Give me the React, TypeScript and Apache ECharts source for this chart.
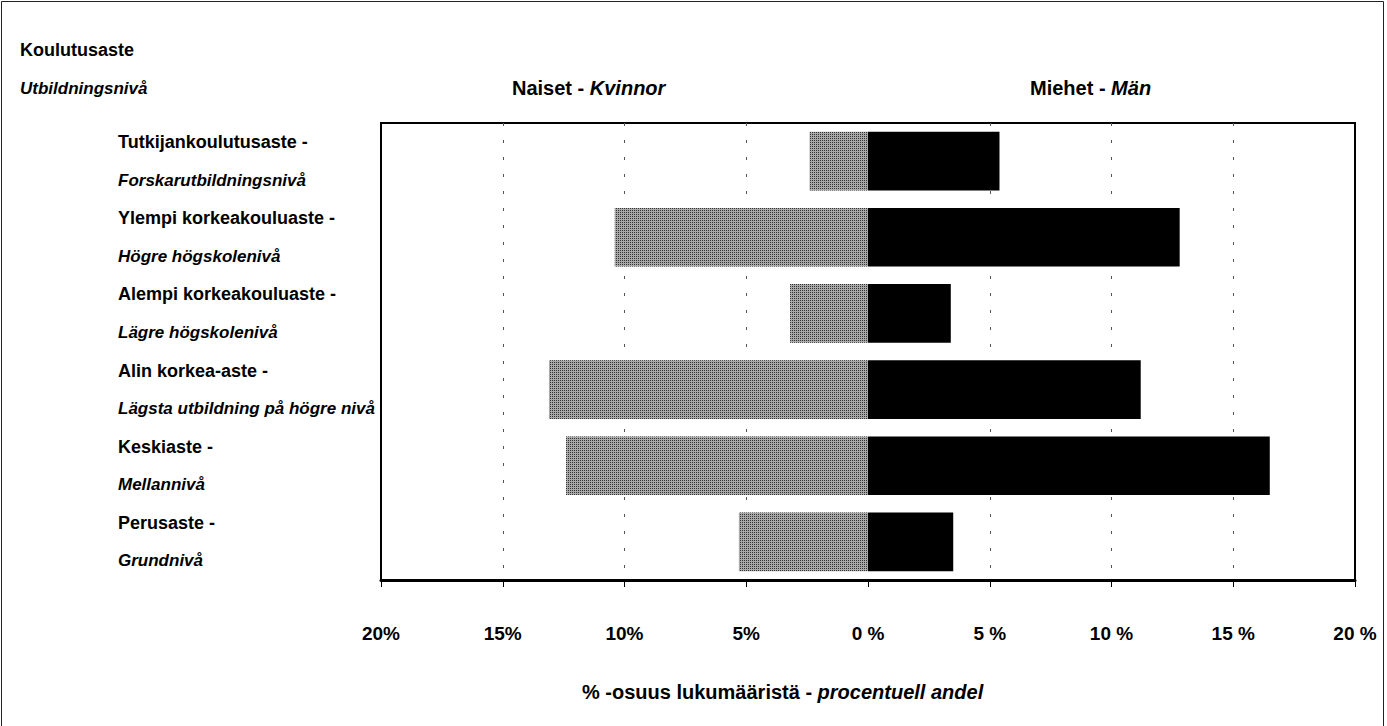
import React, { useEffect, useRef } from "react";
import * as echarts from "echarts";

const categoriesFi = [
  "Tutkijankoulutusaste",
  "Ylempi korkeakouluaste",
  "Alempi korkeakouluaste",
  "Alin korkea-aste",
  "Keskiaste",
  "Perusaste",
];
const categoriesSv = [
  "Forskarutbildningsnivå",
  "Högre högskolenivå",
  "Lägre högskolenivå",
  "Lägsta utbildning på högre nivå",
  "Mellannivå",
  "Grundnivå",
];
const women = [2.4, 10.4, 3.2, 13.1, 12.4, 5.3];
const men = [5.4, 12.8, 3.4, 11.2, 16.5, 3.5];
const tickValues = [-20, -15, -10, -5, 0, 5, 10, 15, 20];
const tickLabels = ["20%", "15%", "10%", "5%", "0 %", "5 %", "10 %", "15 %", "20 %"];
const gridValues = [-15, -10, -5, 5, 10, 15];

const FONT = "'Liberation Sans', Arial, sans-serif";

const richPair = (size: number) => ({
  a: { fontFamily: FONT, fontWeight: "bold", fontSize: size, color: "#000" },
  b: { fontFamily: FONT, fontWeight: "bold", fontStyle: "italic", fontSize: size, color: "#000" },
});

export default function App() {
  const ref = useRef<HTMLDivElement>(null);
  useEffect(() => {
    document.body.style.margin = "0";
    const chart = echarts.init(ref.current!, null, { renderer: "svg" });
    chart.setOption({
      animation: false,
      backgroundColor: "#fff",
      grid: {
        left: 381,
        right: 32,
        top: 123,
        bottom: 146,
        show: true,
        borderColor: "#000",
        borderWidth: 2,
      },
      xAxis: {
        type: "value",
        min: -20,
        max: 20,
        interval: 5,
        axisLine: { show: true, lineStyle: { color: "#000", width: 3 } },
        axisTick: { show: true, length: 7, lineStyle: { color: "#000", width: 1 } },
        axisLabel: {
          margin: 44,
          fontFamily: FONT,
          fontWeight: "bold",
          fontSize: 19,
          color: "#000",
          formatter: (v: number) => {
            const i = tickValues.indexOf(Math.round(v));
            return i >= 0 ? tickLabels[i] : "";
          },
        },
        splitLine: { show: false },
      },
      yAxis: {
        type: "category",
        inverse: true,
        data: categoriesFi,
        axisLine: { show: false },
        axisTick: { show: false },
        axisLabel: {
          margin: 263,
          align: "left",
          formatter: (value: string, index: number) =>
            `{a|${value} -}\n{b|${categoriesSv[index]}}`,
          rich: {
            a: { fontFamily: FONT, fontWeight: "bold", fontSize: 18, color: "#000", lineHeight: 38 },
            b: {
              fontFamily: FONT,
              fontWeight: "bold",
              fontStyle: "italic",
              fontSize: 17,
              color: "#000",
              lineHeight: 38,
            },
          },
        },
      },
      series: [
        {
          name: "Naiset - Kvinnor",
          type: "bar",
          data: women.map((v) => -v),
          barWidth: "77%",
          barGap: "-100%",
          z: 3,
          itemStyle: {
            color: "#a8a8a8",
            decal: {
              symbol: "rect",
              symbolSize: 1,
              dashArrayX: [1, 1],
              dashArrayY: [1, 1],
              color: "#333",
              backgroundColor: "#bdbdbd",
            },
          },
          markLine: {
            silent: true,
            symbol: "none",
            z: 1,
            label: { show: false },
            lineStyle: { color: "#555", width: 1, type: [3, 14] },
            data: gridValues.map((v) => ({ xAxis: v })),
          },
        },
        {
          name: "Miehet - Män",
          type: "bar",
          data: men,
          barWidth: "77%",
          barGap: "-100%",
          z: 3,
          itemStyle: { color: "#000" },
        },
      ],
      graphic: [
        {
          type: "rect",
          shape: { x: 1.5, y: 1.5, width: 1382, height: 740 },
          style: { fill: "none", stroke: "#222", lineWidth: 1 },
          silent: true,
        },
        {
          type: "text",
          x: 20,
          y: 50,
          style: { text: "Koulutusaste", font: `bold 18px ${FONT}`, fill: "#000", verticalAlign: "middle" },
        },
        {
          type: "text",
          x: 20,
          y: 88,
          style: {
            text: "Utbildningsnivå",
            font: `italic bold 17px ${FONT}`,
            fill: "#000",
            verticalAlign: "middle",
          },
        },
        {
          type: "text",
          x: 512,
          y: 88,
          style: { text: "{a|Naiset - }{b|Kvinnor}", verticalAlign: "middle", rich: richPair(20) },
        },
        {
          type: "text",
          x: 1030,
          y: 88,
          style: { text: "{a|Miehet - }{b|Män}", verticalAlign: "middle", rich: richPair(20) },
        },
        {
          type: "text",
          x: 582,
          y: 692,
          style: {
            text: "{a|% -osuus lukumääristä - }{b|procentuell andel}",
            verticalAlign: "middle",
            rich: richPair(20),
          },
        },
      ],
    });
    return () => chart.dispose();
  }, []);
  return <div ref={ref} style={{ width: 1387, height: 726 }} />;
}
